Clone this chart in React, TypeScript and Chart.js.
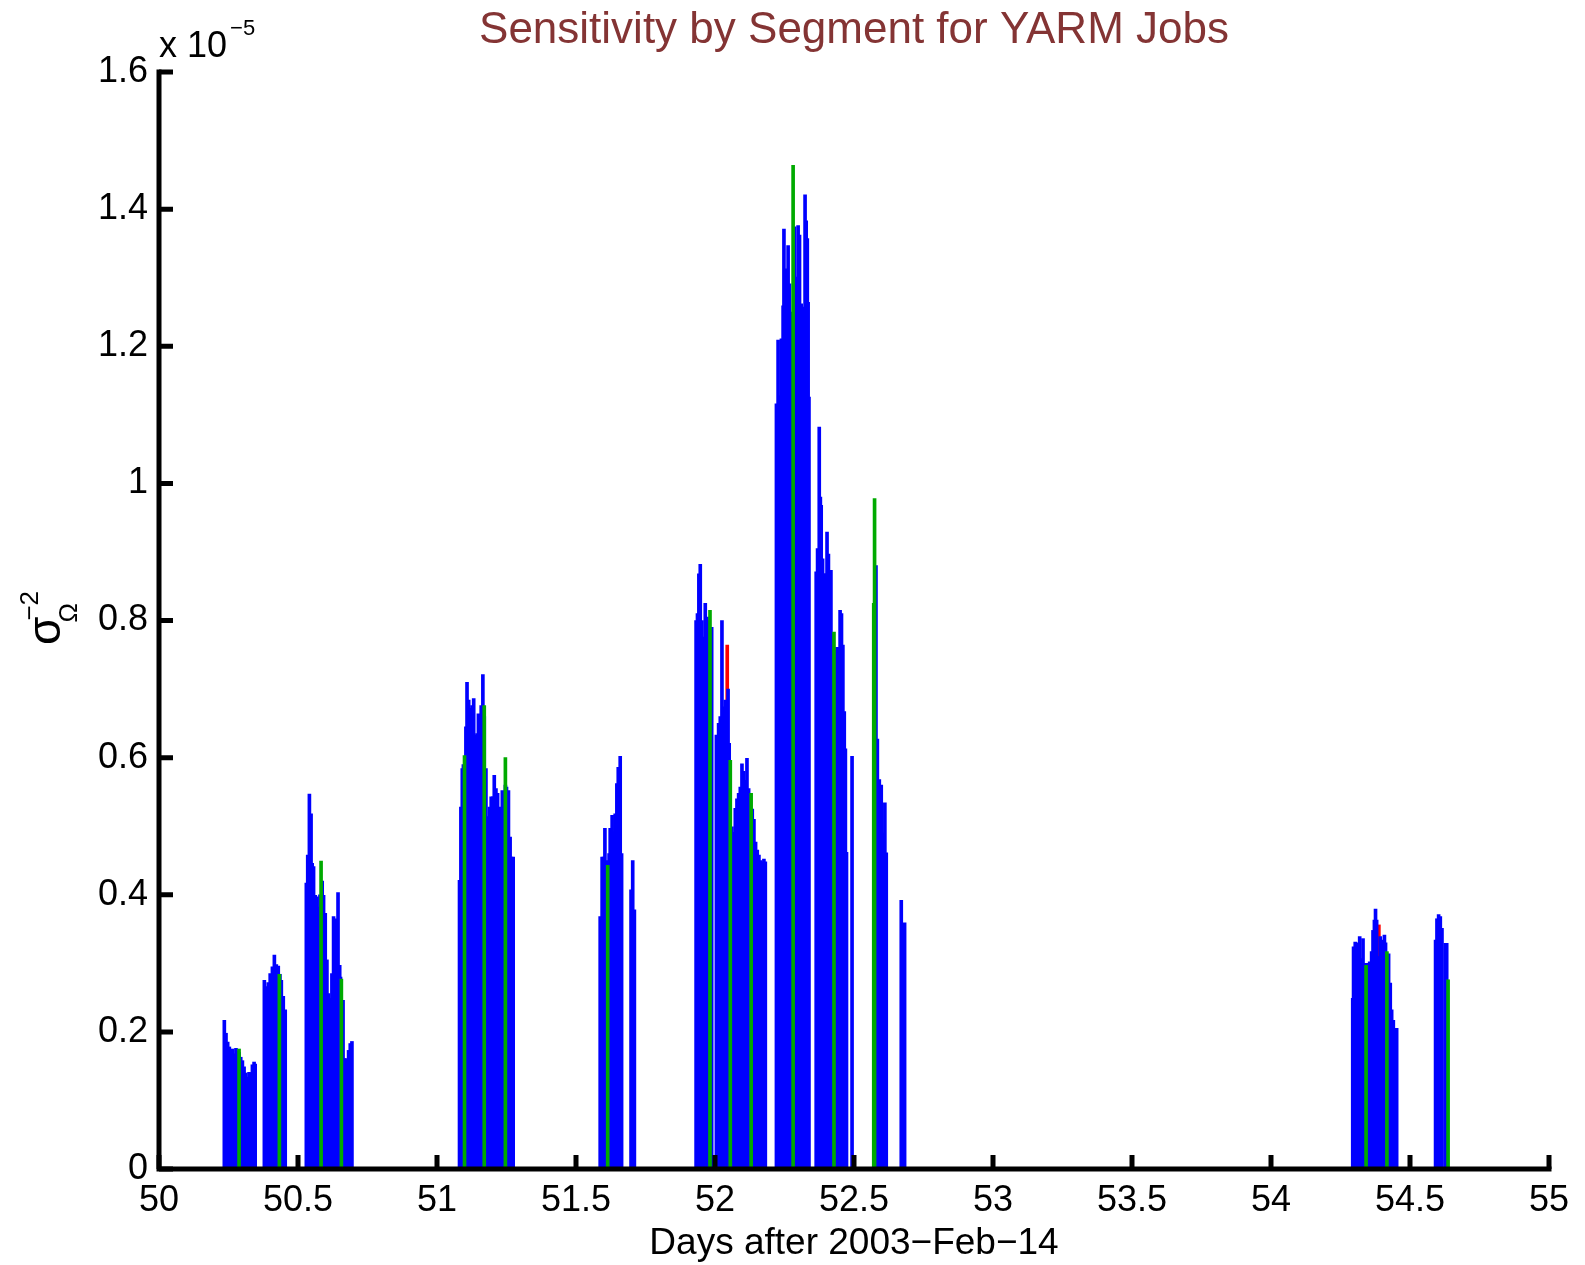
import React, { useEffect, useRef } from "react";
import { Chart, registerables } from "chart.js";

Chart.register(...registerables);

// Values are in units of 1e-5 (the axis multiplier "x 10^-5")
const blueSeg1: [number, number][] = [
  [50.235, 0.217], [50.241, 0.198], [50.247, 0.185], [50.253, 0.178], [50.259, 0.172],
  [50.265, 0.175], [50.271, 0.168], [50.277, 0.176], [50.283, 0.172], [50.288, 0.17],
  [50.294, 0.163], [50.3, 0.158], [50.306, 0.149], [50.312, 0.14], [50.318, 0.134],
  [50.324, 0.141], [50.33, 0.14], [50.336, 0.152], [50.342, 0.156], [50.346, 0.153],
];
const blueSeg2: [number, number][] = [
  [50.379, 0.275], [50.386, 0.266], [50.393, 0.272], [50.4, 0.285], [50.408, 0.295],
  [50.415, 0.312], [50.422, 0.298], [50.429, 0.296], [50.435, 0.284], [50.44, 0.275],
  [50.447, 0.252], [50.454, 0.232],
];
const blueSeg3: [number, number][] = [
  [50.53, 0.417], [50.535, 0.458], [50.541, 0.547], [50.547, 0.518], [50.551, 0.446],
  [50.556, 0.441], [50.562, 0.399], [50.568, 0.397], [50.574, 0.382], [50.579, 0.4],
  [50.587, 0.42], [50.592, 0.399], [50.598, 0.373], [50.604, 0.305], [50.61, 0.256],
  [50.616, 0.249], [50.622, 0.285], [50.628, 0.368], [50.634, 0.365], [50.64, 0.363],
  [50.644, 0.403], [50.65, 0.297], [50.653, 0.28], [50.662, 0.246], [50.667, 0.161],
  [50.674, 0.161], [50.682, 0.173], [50.688, 0.183], [50.694, 0.186],
];
const blueSeg4: [number, number][] = [
  [51.081, 0.421], [51.086, 0.528], [51.091, 0.584], [51.095, 0.59], [51.104, 0.645],
  [51.108, 0.71], [51.114, 0.684], [51.12, 0.672], [51.126, 0.676], [51.132, 0.686],
  [51.138, 0.633], [51.144, 0.635], [51.149, 0.664], [51.153, 0.63], [51.159, 0.676],
  [51.165, 0.721], [51.17, 0.66], [51.176, 0.584], [51.183, 0.514], [51.189, 0.528],
  [51.195, 0.543], [51.201, 0.543], [51.206, 0.574], [51.212, 0.555], [51.218, 0.548],
  [51.224, 0.528], [51.229, 0.487], [51.235, 0.552], [51.24, 0.55], [51.246, 0.56],
  [51.25, 0.557], [51.257, 0.552], [51.263, 0.484], [51.268, 0.455], [51.274, 0.455],
];
const blueSeg5: [number, number][] = [
  [51.587, 0.368], [51.594, 0.455], [51.599, 0.455], [51.604, 0.497], [51.609, 0.45],
  [51.619, 0.46], [51.623, 0.497], [51.63, 0.516], [51.635, 0.492], [51.641, 0.518],
  [51.647, 0.562], [51.652, 0.586], [51.659, 0.602], [51.664, 0.46],
  [51.698, 0.407], [51.704, 0.45], [51.71, 0.378],
];
const blueSeg6: [number, number][] = [
  [51.932, 0.8], [51.937, 0.81], [51.942, 0.868], [51.947, 0.882], [51.953, 0.8],
  [51.959, 0.776], [51.965, 0.825], [51.971, 0.805], [51.977, 0.8], [51.988, 0.79],
  [52.005, 0.633], [52.013, 0.65], [52.019, 0.66], [52.025, 0.8], [52.031, 0.674],
  [52.037, 0.684], [52.047, 0.7], [52.051, 0.621], [52.061, 0.499], [52.067, 0.491],
  [52.073, 0.526], [52.079, 0.54], [52.085, 0.548], [52.091, 0.557], [52.097, 0.591],
  [52.103, 0.58], [52.109, 0.567], [52.115, 0.599], [52.121, 0.555], [52.125, 0.54],
  [52.134, 0.525], [52.14, 0.51], [52.146, 0.477], [52.152, 0.465], [52.158, 0.458],
  [52.164, 0.45], [52.17, 0.448], [52.176, 0.452], [52.181, 0.448],
];
const blueSeg7: [number, number][] = [
  [52.221, 1.116], [52.227, 1.209], [52.232, 1.128], [52.239, 1.211], [52.245, 1.259],
  [52.248, 1.371], [52.253, 1.313], [52.259, 1.291], [52.263, 1.347], [52.268, 1.291],
  [52.273, 1.242], [52.278, 1.25], [52.286, 1.374], [52.291, 1.301], [52.299, 1.376],
  [52.304, 1.362], [52.31, 1.262], [52.317, 1.257], [52.324, 1.421], [52.328, 1.383],
  [52.332, 1.357], [52.335, 1.264], [52.338, 1.126],
];
const blueSeg8: [number, number][] = [
  [52.364, 0.871], [52.369, 0.905], [52.375, 1.082], [52.379, 0.98], [52.382, 0.968],
  [52.387, 0.89], [52.393, 0.868], [52.398, 0.868], [52.403, 0.929], [52.408, 0.897],
  [52.412, 0.851], [52.417, 0.873], [52.422, 0.781], [52.433, 0.757], [52.439, 0.761],
  [52.445, 0.761], [52.45, 0.815], [52.455, 0.81], [52.46, 0.764], [52.465, 0.667],
  [52.469, 0.613], [52.473, 0.462], [52.493, 0.602],
  [52.579, 0.88], [52.584, 0.627], [52.591, 0.568], [52.598, 0.56], [52.604, 0.49],
  [52.611, 0.534], [52.616, 0.461], [52.67, 0.392], [52.682, 0.359],
];
const blueSeg9: [number, number][] = [
  [54.294, 0.249], [54.297, 0.324], [54.303, 0.331], [54.309, 0.307], [54.314, 0.33],
  [54.319, 0.339], [54.325, 0.307], [54.331, 0.336], [54.336, 0.3], [54.347, 0.3],
  [54.355, 0.302], [54.362, 0.317], [54.367, 0.348], [54.372, 0.363], [54.376, 0.379],
  [54.38, 0.363], [54.388, 0.31], [54.393, 0.339], [54.397, 0.327], [54.401, 0.334],
  [54.408, 0.341], [54.412, 0.33], [54.423, 0.314], [54.429, 0.271], [54.434, 0.232],
  [54.44, 0.217], [54.447, 0.205], [54.452, 0.205],
  [54.592, 0.334], [54.597, 0.365], [54.603, 0.371], [54.609, 0.368], [54.615, 0.351],
  [54.627, 0.329], [54.632, 0.329],
];
const greenStems: [number, number][] = [
  [50.288, 0.175], [50.433, 0.284], [50.583, 0.449], [50.656, 0.277],
  [51.099, 0.603], [51.17, 0.676], [51.246, 0.6], [51.614, 0.443],
  [51.982, 0.815], [52.055, 0.596], [52.13, 0.548], [52.281, 1.464],
  [52.428, 0.783], [52.571, 0.825], [52.574, 0.978],
  [54.342, 0.297], [54.417, 0.317], [54.637, 0.276],
];
const redStems: [number, number][] = [
  [52.044, 0.764], [54.388, 0.356],
];

const xTicks = [50, 50.5, 51, 51.5, 52, 52.5, 53, 53.5, 54, 54.5, 55];
const yTicks = [0, 0.2, 0.4, 0.6, 0.8, 1, 1.2, 1.4, 1.6];

const titleText = "Sensitivity by Segment for YARM Jobs";
const xLabelText = "Days after 2003\u2212Feb\u221214";

const FONT = '"Liberation Sans", Arial, Helvetica, sans-serif';

const toPts = (arr: [number, number][]) => arr.map(([x, y]) => ({ x, y }));

const decorPlugin = {
  id: "matlabDecor",
  afterDatasetsDraw(chart: any) {
    const { ctx, scales } = chart;
    const xs = scales.x;
    const ys = scales.y;
    const x0 = xs.getPixelForValue(xTicks[0]);
    const x1 = xs.getPixelForValue(xTicks[xTicks.length - 1]);
    const y0 = ys.getPixelForValue(yTicks[0]);
    const y1 = ys.getPixelForValue(yTicks[yTicks.length - 1]);
    ctx.save();
    ctx.strokeStyle = "#000";
    ctx.lineWidth = 5;
    ctx.lineCap = "square";
    ctx.lineJoin = "miter";
    ctx.beginPath();
    ctx.moveTo(x0, y1);
    ctx.lineTo(x0, y0);
    ctx.lineTo(x1, y0);
    ctx.stroke();
    ctx.lineCap = "butt";
    ctx.beginPath();
    xTicks.forEach((v) => {
      const p = xs.getPixelForValue(v);
      ctx.moveTo(p, y0);
      ctx.lineTo(p, y0 - 14);
    });
    yTicks.forEach((v) => {
      const p = ys.getPixelForValue(v);
      ctx.moveTo(x0, p);
      ctx.lineTo(x0 + 14, p);
    });
    ctx.stroke();
    ctx.restore();
  },
  afterDraw(chart: any) {
    const { ctx, scales } = chart;
    const xs = scales.x;
    const x0 = xs.getPixelForValue(xTicks[0]);
    const x1 = xs.getPixelForValue(xTicks[xTicks.length - 1]);
    const cx = (x0 + x1) / 2;
    ctx.save();
    // Title
    ctx.fillStyle = "#843434";
    ctx.font = `44px ${FONT}`;
    ctx.textAlign = "center";
    ctx.textBaseline = "alphabetic";
    ctx.fillText(titleText, cx, 43);
    // X label
    ctx.fillStyle = "#000";
    ctx.font = `37px ${FONT}`;
    ctx.fillText(xLabelText, cx, 1254);
    // Multiplier
    ctx.textAlign = "left";
    ctx.font = `36px ${FONT}`;
    ctx.fillText("x 10", 159, 57);
    const w = ctx.measureText("x 10").width;
    ctx.font = `22px ${FONT}`;
    ctx.fillText("\u22125", 159 + w + 3, 35);
    // Y label: sigma_Omega^-2 rotated
    ctx.translate(60, 645);
    ctx.rotate(-Math.PI / 2);
    ctx.font = `46px ${FONT}`;
    ctx.fillText("\u03c3", 0, 0);
    const sw = ctx.measureText("\u03c3").width;
    ctx.font = `26px ${FONT}`;
    ctx.fillText("\u22122", sw - 4, -22);
    ctx.fillText("\u03a9", sw - 6, 17);
    ctx.restore();
  },
};

export default function App() {
  const canvasRef = useRef<HTMLCanvasElement | null>(null);

  useEffect(() => {
    if (!canvasRef.current) return;
    Chart.defaults.font.family = FONT;
    const blue = toPts([
      ...blueSeg1, ...blueSeg2, ...blueSeg3, ...blueSeg4, ...blueSeg5,
      ...blueSeg6, ...blueSeg7, ...blueSeg8, ...blueSeg9,
    ]);
    const chart = new Chart(canvasRef.current, {
      type: "bar",
      data: {
        datasets: [
          {
            label: "green",
            data: toPts(greenStems),
            backgroundColor: "#00AA00",
            barThickness: 3,
            grouped: false,
            order: 0,
          } as any,
          {
            label: "blue",
            data: blue,
            backgroundColor: "#0000FF",
            barThickness: 3,
            grouped: false,
            order: 1,
          } as any,
          {
            label: "red",
            data: toPts(redStems),
            backgroundColor: "#FF0000",
            barThickness: 3,
            grouped: false,
            order: 2,
          } as any,
        ],
      },
      options: {
        responsive: false,
        animation: false,
        events: [],
        layout: { padding: { left: 0, right: 36, top: 72, bottom: 0 } },
        plugins: {
          legend: { display: false },
          tooltip: { enabled: false },
          title: { display: false },
        },
        scales: {
          x: {
            type: "linear",
            min: 50,
            max: 55,
            offset: false,
            grid: { display: false, drawTicks: false },
            border: { display: false },
            afterBuildTicks: (s: any) => {
              s.ticks = xTicks.map((v) => ({ value: v }));
            },
            afterFit: (s: any) => {
              s.height = 96;
            },
            ticks: {
              color: "#000",
              font: { size: 36 },
              padding: 10,
              maxRotation: 0,
              autoSkip: false,
              callback: (v: any) => String(Math.round(Number(v) * 10) / 10),
            },
          },
          y: {
            type: "linear",
            min: 0,
            max: 1.6,
            grid: { display: false, drawTicks: false },
            border: { display: false },
            afterBuildTicks: (s: any) => {
              s.ticks = yTicks.map((v) => ({ value: v }));
            },
            afterFit: (s: any) => {
              s.width = 159;
            },
            ticks: {
              color: "#000",
              font: { size: 36 },
              padding: 11,
              autoSkip: false,
              callback: (v: any) => String(Math.round(Number(v) * 10) / 10),
            },
          },
        },
      } as any,
      plugins: [decorPlugin],
    });
    return () => chart.destroy();
  }, []);

  return (
    <div
      style={{
        position: "fixed",
        left: 0,
        top: 0,
        width: 1585,
        height: 1265,
        background: "#fff",
      }}
    >
      <canvas
        ref={canvasRef}
        width={1585}
        height={1265}
        style={{ width: 1585, height: 1265, display: "block" }}
      />
    </div>
  );
}
